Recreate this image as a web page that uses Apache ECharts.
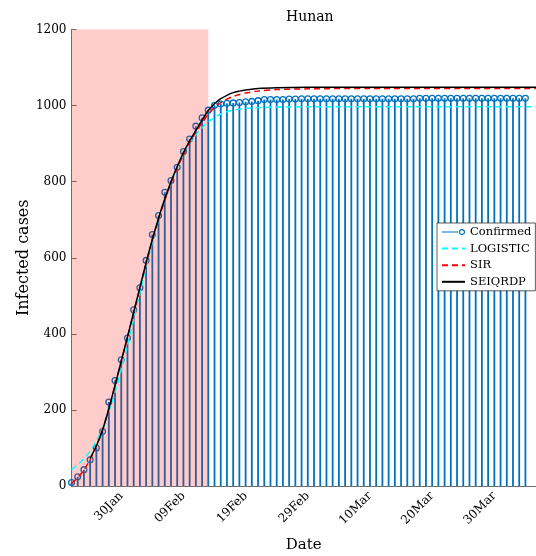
<!DOCTYPE html>
<html><head><meta charset="utf-8">
<script src="https://cdn.jsdelivr.net/npm/echarts@6/dist/echarts.min.js"></script>
<style>html,body{margin:0;padding:0;background:#fff}#c{width:536px;height:556px}</style>
</head><body><div id="c"></div>
<script>
// x values are day-of-year 2020 (22 = 22 Jan)
const startDay = 22;
const xMax = 96.7;
const confirmed = [
  9,24,43,69,100,143,221,277,332,389,
  463,521,593,661,711,772,803,838,879,912,946,968,988,1001,1004,1006,1007,1008,1010,1011,1013,1016,1016,1016,1016,1017,1017,1018,1018,
  1018,1018,1018,1018,1018,1018,1018,1018,1018,1018,1018,1018,1018,1018,1018,1018,1018,1019,1019,1019,1019,1019,1019,1019,1019,1019,1019,1019,1019,1019,
  1019,1019,1019,1019,1019
];
const tickDays = [30,40,50,60,70,80,90];
const tickLabels = ['30Jan','09Feb','19Feb','29Feb','10Mar','20Mar','30Mar'];
const shadeFrom = 22, shadeTo = 44, shadeTop = 1200;

const logisticDays = [22,23,24,25,26,27,28,29,30,31,32,33,34,35,36,37,38,39,40,41,42,43,44,45,46,47,48,50,53,60,96.7];
const logisticVals = [43,56,72,92,118,152,195,246,305,370,438,508,576,641,700,752,797,838,872,900,923,942,957,969,978,984,988,993,995,997,997];

const sirDays = [22,23,24,25,26,27,28,29,30,31,32,33,34,35,36,37,38,39,40,41,42,43,44,45,46,47,48,49,50,52,55,60,70,96.7];
const sirVals = [7,22,42,70,105,148,203,265,328,391,455,520,585,646,701,751,796,836,871,902,930,955,977,995,1008,1017,1024,1029,1033,1038,1042,1044,1045,1045];

const seiqrdpDays = [25,26,27,28,29,30,31,32,33,34,35,36,37,38,39,40,41,42,43,44,45,46,47,48,49,50,52,55,60,96.7];
const seiqrdpVals = [73,105,147,203,265,328,392,457,522,587,648,704,755,800,840,876,907,935,962,987,1005,1018,1027,1034,1038,1041,1045,1047,1048,1048];

const pairs = (d, v) => d.map((x, i) => [x, v[i]]);
const serif = 'DejaVu Serif';
const axisGray = '#707070';
const confirmedIcon = 'path://M0,4.4H19.2V5.6H0Z M20,5a3.5,3.5 0 1,0 7,0a3.5,3.5 0 1,0 -7,0Z M21.3,5a2.2,2.2 0 1,1 4.4,0a2.2,2.2 0 1,1 -4.4,0Z';

const chart = echarts.init(document.getElementById('c'), null, {renderer: 'canvas'});
chart.setOption({
  animation: false,
  backgroundColor: '#fff',
  title: {text: 'Hunan', left: 286, top: 10, padding: 0,
    textStyle: {fontFamily: serif, fontSize: 14, fontWeight: 'normal', color: '#000'}},
  grid: {left: 71.5, right: 0, top: 29.5, bottom: 70, containLabel: false, outerBoundsMode: 'none'},
  legend: {
    orient: 'vertical', left: 437, top: 223, padding: [3, 4, 3, 4],
    itemWidth: 23, itemHeight: 10, itemGap: 4.6,
    backgroundColor: '#fff', borderColor: '#333', borderWidth: 0.8,
    textStyle: {fontFamily: serif, fontSize: 11.5, color: '#000'},
    data: [
      {name: 'Confirmed', icon: confirmedIcon},
      {name: 'LOGISTIC', itemStyle: {opacity: 0}},
      {name: 'SIR', itemStyle: {opacity: 0}},
      {name: 'SEIQRDP', itemStyle: {opacity: 0}}
    ]
  },
  xAxis: {
    type: 'value', min: startDay, max: xMax,
    name: 'Date', nameLocation: 'middle', nameGap: 52, nameMoveOverlap: false,
    nameTextStyle: {fontFamily: serif, fontSize: 15, color: '#000'},
    axisLine: {show: true, lineStyle: {color: axisGray, width: 1}},
    axisTick: {show: false},
    splitLine: {show: false},
    axisLabel: {
      customValues: tickDays, rotate: 45, margin: 8,
      fontFamily: serif, fontSize: 12, color: '#000',
      formatter: v => { const i = tickDays.indexOf(v); return i >= 0 ? tickLabels[i] : ''; }
    }
  },
  yAxis: {
    type: 'value', min: 0, max: 1200, interval: 200,
    name: 'Infected cases', nameLocation: 'middle', nameGap: 40, nameMoveOverlap: false,
    nameTextStyle: {fontFamily: serif, fontSize: 16, color: '#000'},
    axisLine: {show: true, lineStyle: {color: axisGray, width: 1}},
    axisTick: {show: true, inside: true, length: 5, lineStyle: {color: axisGray}},
    splitLine: {show: false},
    axisLabel: {fontFamily: serif, fontSize: 12, color: '#000', margin: 5, formatter: v => String(v)}
  },
  series: [
    {
      name: 'stems', type: 'custom', z: 1, clip: false, silent: true,
      data: confirmed.map((v, i) => [startDay + i, v]),
      renderItem: (params, api) => {
        const x = api.value(0), y = api.value(1);
        const b = api.coord([x, 0]), t = api.coord([x, y]);
        return {type: 'group', children: [
          {type: 'line', shape: {x1: b[0], y1: b[1], x2: t[0], y2: t[1]}, style: {stroke: '#0072BD', lineWidth: 1.8}},
          {type: 'circle', shape: {cx: t[0], cy: t[1], r: 2.9}, style: {fill: 'none', stroke: '#0072BD', lineWidth: 1.3}}
        ]};
      }
    },
    {
      name: 'shade', type: 'custom', z: 2, silent: true,
      data: [[shadeFrom, shadeTo, shadeTop]],
      renderItem: (params, api) => {
        const p0 = api.coord([api.value(0), api.value(2)]);
        const p1 = api.coord([api.value(1), 0]);
        return {type: 'rect', shape: {x: p0[0], y: p0[1], width: p1[0] - p0[0], height: p1[1] - p0[1]},
          style: {fill: 'rgba(255,0,0,0.2)'}};
      }
    },
    {name: 'Confirmed', type: 'line', data: [], symbol: 'emptyCircle', color: '#0072BD',
      lineStyle: {color: '#0072BD', width: 1.8}},
    {name: 'LOGISTIC', type: 'line', z: 3, data: pairs(logisticDays, logisticVals), showSymbol: false, symbol: 'none',
      smooth: 0.3, color: '#00FFFF', lineStyle: {color: '#00FFFF', width: 1.5, type: [6, 4]}},
    {name: 'SIR', type: 'line', z: 4, data: pairs(sirDays, sirVals), showSymbol: false, symbol: 'none',
      smooth: 0.3, color: '#FF0000', lineStyle: {color: '#FF0000', width: 1.5, type: [6, 4]}},
    {name: 'SEIQRDP', type: 'line', z: 5, data: pairs(seiqrdpDays, seiqrdpVals), showSymbol: false, symbol: 'none',
      smooth: 0.3, color: '#000000', lineStyle: {color: '#000000', width: 1.5}}
  ]
});
</script>
</body></html>
